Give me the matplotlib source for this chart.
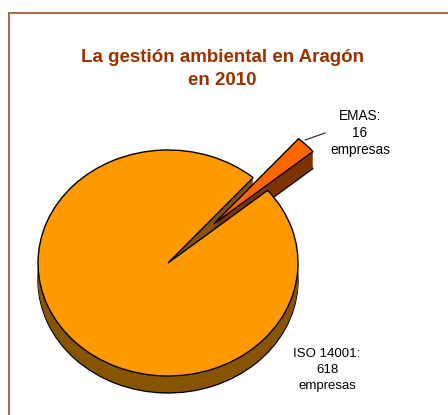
import numpy as np
import matplotlib
matplotlib.use("Agg")
import matplotlib.pyplot as plt
from matplotlib.patches import Rectangle

# data
labels = ["EMAS", "ISO 14001"]
values = [16, 618]
top_colors = ["#FF6600", "#FF9900"]
side_colors = ["#7F3300", "#875500"]
explode = [0.49, 0]
title = "La gestión ambiental en Aragón\nen 2010"

W, H = 448, 415
fig = plt.figure(figsize=(W / 100, H / 100), dpi=100)
ax = fig.add_axes([0, 0, 1, 1])

# pie center and half-axes in pixels (ellipse = tilted disc)
cx, cy, a, b = 168, 263, 130, 113

start = 40
depth = 0.15
layers = np.linspace(-depth, 0, 20)

# side of the disc: stack of darker pies going down
for i, off in enumerate(layers):
    edge = "black" if i == 0 else "none"
    ax.pie(values, colors=side_colors, startangle=start, explode=explode,
           center=(0, off), radius=1, frame=True,
           wedgeprops=dict(edgecolor=edge, linewidth=1.0))

# top face
wedges, _ = ax.pie(values, colors=top_colors, startangle=start, explode=explode,
                   center=(0, 0), radius=1, frame=True,
                   wedgeprops=dict(edgecolor="black", linewidth=1.0))

ax.set_aspect("auto")
ax.set_xlim(-cx / a, (W - cx) / a)
ax.set_ylim((cy - H) / b, cy / b)
ax.axis("off")

# leader line for EMAS
ang = np.deg2rad(start + 360 * values[0] / sum(values) * 0.9)
mid = np.deg2rad(start + 180 * values[0] / sum(values))
ex, ey = explode[0] * np.cos(mid), explode[0] * np.sin(mid)
x0, y0 = ex + np.cos(ang), ey + np.sin(ang)
ax.plot([x0 + 0.04, (325 - cx) / a], [y0, (cy - 133) / b],
        color="#333333", lw=0.9)


def px(x, y):
    return x / W, 1 - y / H


fig.text(*px(222, 69), title, ha="center", va="center", fontsize=13.5,
         fontweight="bold", color="#993300", family="Liberation Sans",
         linespacing=1.45)
fig.text(*px(360, 133), f"{labels[0]}:\n{values[0]}\nempresas", ha="center",
         va="center", fontsize=9.8, family="Liberation Sans", linespacing=1.3)
fig.text(*px(327, 370), f"{labels[1]}:\n{values[1]}\nempresas", ha="center",
         va="center", fontsize=9.5, family="Liberation Sans", linespacing=1.4)

# chart border
fig.patches.append(Rectangle((9 / W, -0.1), 1.2, 1.1 - 13 / H,
                             transform=fig.transFigure, fill=False,
                             edgecolor="#A65A35", linewidth=1.3))

fig.savefig("out.png", dpi=100)
